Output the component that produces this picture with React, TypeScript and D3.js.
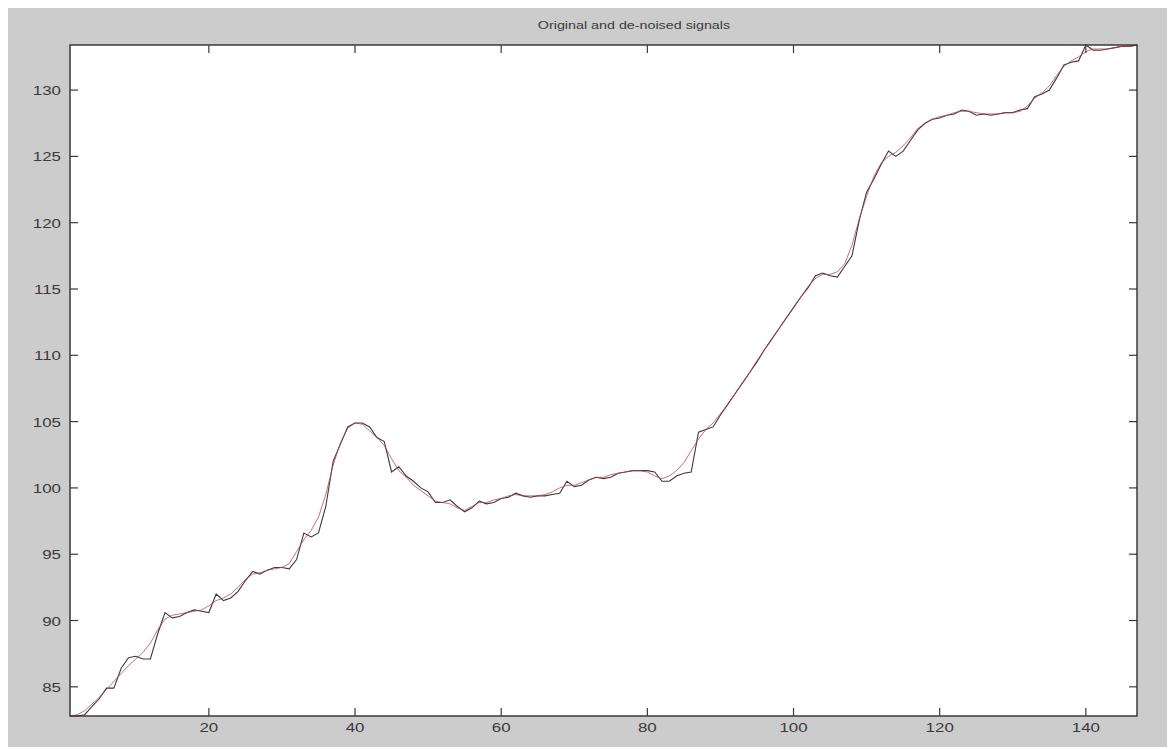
import * as d3 from 'd3';
import React, { useEffect } from 'react';

// values, index 1..147
const original = [
  82.8, 82.8, 82.9, 83.5, 84.1, 84.9, 84.9, 86.4, 87.2, 87.3,
  87.1, 87.1, 89.0, 90.6, 90.2, 90.3, 90.6, 90.8, 90.7, 90.6,
  92.0, 91.5, 91.7, 92.2, 93.0, 93.7, 93.5, 93.8, 94.0, 94.0,
  93.9, 94.6, 96.6, 96.3, 96.6, 98.6, 102.0, 103.3, 104.6, 104.9,
  104.9, 104.6, 103.8, 103.5, 101.2, 101.6, 100.9, 100.5, 100.0, 99.7,
  98.9, 98.9, 99.1, 98.6, 98.2, 98.5, 99.0, 98.8, 98.9, 99.2,
  99.3, 99.6, 99.4, 99.3, 99.4, 99.4, 99.5, 99.6, 100.5, 100.1,
  100.2, 100.6, 100.8, 100.7, 100.8, 101.1, 101.2, 101.3, 101.3, 101.3,
  101.2, 100.5, 100.5, 100.9, 101.1, 101.2, 104.2, 104.4, 104.6, 105.5,
  106.3, 107.1, 107.9, 108.7, 109.5, 110.4, 111.2, 112.0, 112.8, 113.6,
  114.4, 115.1, 116.0, 116.2, 116.0, 115.9, 116.7, 117.5, 120.2, 122.3,
  123.3, 124.4, 125.4, 125.0, 125.4, 126.2, 127.0, 127.5, 127.8, 127.9,
  128.1, 128.2, 128.5, 128.4, 128.1, 128.2, 128.1, 128.2, 128.3, 128.3,
  128.5, 128.6, 129.5, 129.7, 130.0, 130.9, 131.9, 132.1, 132.2, 133.4,
  133.0, 133.0, 133.1, 133.2, 133.3, 133.3, 133.4,
];

const denoised = [
  82.8, 82.9, 83.2, 83.7, 84.2, 84.8, 85.4, 86.0, 86.6, 87.1,
  87.6, 88.3, 89.3, 90.1, 90.4, 90.5, 90.6, 90.7, 90.8, 91.1,
  91.5, 91.7, 92.0, 92.5, 93.1, 93.5, 93.6, 93.8, 93.9, 94.0,
  94.3, 95.2, 96.1, 96.8, 97.8, 99.5, 101.7, 103.4, 104.5, 104.9,
  104.8, 104.3, 103.8, 103.2, 102.2, 101.3, 100.8, 100.2, 99.8, 99.4,
  99.0, 98.9, 98.8, 98.5, 98.3, 98.6, 98.9, 98.9, 99.1, 99.2,
  99.4, 99.5, 99.4, 99.4, 99.4, 99.5, 99.7, 100.0, 100.2, 100.2,
  100.4, 100.6, 100.8, 100.8, 101.0, 101.1, 101.2, 101.3, 101.3, 101.2,
  100.9, 100.7, 100.9, 101.3, 101.9, 102.8, 103.7, 104.4, 104.9, 105.6,
  106.3, 107.1, 107.9, 108.7, 109.6, 110.4, 111.2, 112.0, 112.8, 113.6,
  114.4, 115.2, 115.8, 116.1, 116.1, 116.3, 116.9, 118.3, 120.3, 122.0,
  123.5, 124.5, 125.0, 125.3, 125.8, 126.4, 127.1, 127.5, 127.8, 128.0,
  128.1, 128.3, 128.4, 128.4, 128.3, 128.2, 128.2, 128.2, 128.3, 128.3,
  128.4, 128.8, 129.4, 129.8, 130.3, 131.1, 131.8, 132.2, 132.5, 132.9,
  133.1, 133.1, 133.1, 133.2, 133.3, 133.3, 133.4,
];

const xTicks = [20, 40, 60, 80, 100, 120, 140];
const yTicks = [85, 90, 95, 100, 105, 110, 115, 120, 125, 130];
const title = 'Original and de-noised signals';

export default function App() {
  const ref = React.useRef<SVGSVGElement>(null);

  useEffect(() => {
    if (!ref.current) return;
    const svg = d3.select(ref.current);
    svg.selectAll('*').remove();

    const W = 1170;
    const H = 749;
    const box = { left: 70, top: 45, right: 1137, bottom: 716 };
    const tick = 8;
    const ink = '#3a3a3a';
    const font = '"Liberation Sans", Arial, sans-serif';

    // figure background
    svg.append('rect').attr('width', W).attr('height', H).attr('fill', '#fff');
    svg.append('rect')
      .attr('x', 8).attr('y', 8)
      .attr('width', 1159).attr('height', 739)
      .attr('fill', '#cccccc');

    const x = d3.scaleLinear().domain([1, 147]).range([box.left, box.right]);
    const y = d3.scaleLinear().domain([82.8, 133.4]).range([box.bottom, box.top]);

    svg.append('rect')
      .attr('x', box.left).attr('y', box.top)
      .attr('width', box.right - box.left).attr('height', box.bottom - box.top)
      .attr('fill', '#fff');

    const line = d3.line<number>()
      .x((_, i) => x(i + 1))
      .y(d => y(d));

    const plot = svg.append('g');
    plot.append('path')
      .datum(original)
      .attr('d', line)
      .attr('fill', 'none')
      .attr('stroke', '#3a3a3a')
      .attr('stroke-width', 1.1);
    plot.append('path')
      .datum(denoised)
      .attr('d', line)
      .attr('fill', 'none')
      .attr('stroke', '#c0394a')
      .attr('stroke-width', 1)
      .attr('stroke-opacity', 0.75);

    // ticks, inward on all four sides
    const tk = svg.append('g').attr('stroke', ink).attr('stroke-width', 1.2);
    xTicks.forEach(t => {
      tk.append('line').attr('x1', x(t)).attr('x2', x(t))
        .attr('y1', box.bottom).attr('y2', box.bottom - tick);
      tk.append('line').attr('x1', x(t)).attr('x2', x(t))
        .attr('y1', box.top).attr('y2', box.top + tick);
    });
    yTicks.forEach(t => {
      tk.append('line').attr('y1', y(t)).attr('y2', y(t))
        .attr('x1', box.left).attr('x2', box.left + tick);
      tk.append('line').attr('y1', y(t)).attr('y2', y(t))
        .attr('x1', box.right).attr('x2', box.right - tick);
    });

    svg.append('rect')
      .attr('x', box.left).attr('y', box.top)
      .attr('width', box.right - box.left).attr('height', box.bottom - box.top)
      .attr('fill', 'none')
      .attr('stroke', ink)
      .attr('stroke-width', 1.5);

    // tick labels (stretched horizontally like the source)
    xTicks.forEach(t => {
      svg.append('text')
        .attr('transform', `translate(${x(t)},${box.bottom + 16}) scale(1.3,1)`)
        .attr('text-anchor', 'middle')
        .attr('font-family', font)
        .attr('font-size', 13)
        .attr('fill', ink)
        .text(t);
    });
    yTicks.forEach(t => {
      svg.append('text')
        .attr('transform', `translate(${box.left - 9},${y(t) + 5}) scale(1.3,1)`)
        .attr('text-anchor', 'end')
        .attr('font-family', font)
        .attr('font-size', 13)
        .attr('fill', ink)
        .text(t);
    });

    svg.append('text')
      .attr('transform', `translate(634,${box.top - 16}) scale(1.3,1)`)
      .attr('text-anchor', 'middle')
      .attr('font-family', font)
      .attr('font-size', 11)
      .attr('fill', ink)
      .text(title);
  }, []);

  return (
    <svg
      ref={ref}
      width={1170}
      height={749}
      style={{ position: 'absolute', left: 0, top: 0, display: 'block' }}
    />
  );
}
